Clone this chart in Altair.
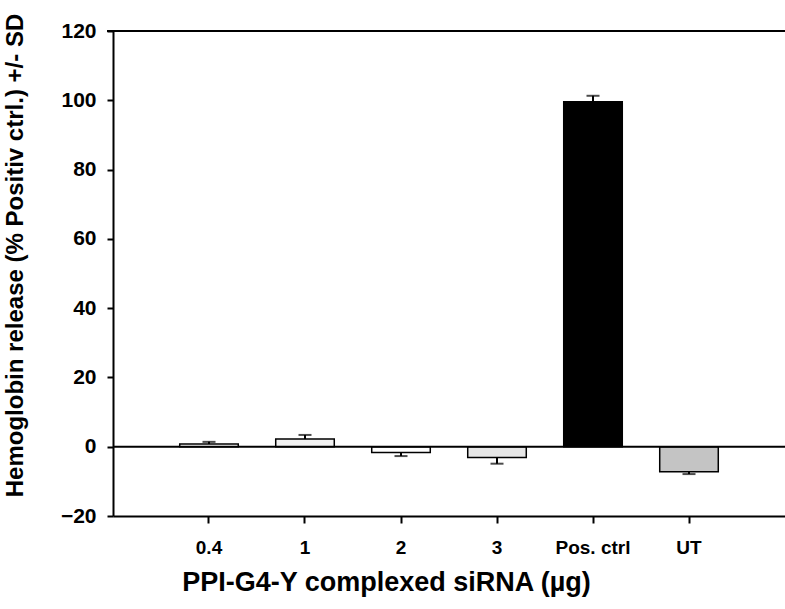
import altair as alt
import pandas as pd

categories = ["0.4", "1", "2", "3", "Pos. ctrl", "UT"]
values = [0.8, 2.2, -1.7, -3.1, 99.6, -7.2]
sd = [0.6, 1.2, 1.0, 1.8, 1.7, 0.7]
fills = ["#ffffff", "#f2f2f2", "#ffffff", "#e6e6e6", "#000000", "#c4c4c4"]

ends = [v + (s if v >= 0 else -s) for v, s in zip(values, sd)]
df = pd.DataFrame({"cat": categories, "value": values, "end": ends, "fill": fills})

FONT = "Liberation Sans"
W, H = 672, 485

xscale = alt.Scale(domain=categories, paddingInner=0.39, paddingOuter=0.695)
yscale = alt.Scale(domain=[-20, 120], nice=False, zero=False)

x = alt.X("cat:N", scale=xscale, sort=categories,
          axis=alt.Axis(title="PPI-G4-Y complexed siRNA (µg)", labelAngle=0,
                        labelFont=FONT, labelFontSize=19, labelFontWeight="bold",
                        labelColor="black", labelPadding=15,
                        titleFont=FONT, titleFontSize=27, titleFontWeight="bold",
                        titleColor="black", titlePadding=12, titleX=273,
                        tickSize=7, tickWidth=2, tickColor="black",
                        domainWidth=2, domainColor="black"))
y = alt.Y("value:Q", scale=yscale,
          axis=alt.Axis(title="Hemoglobin release (% Positiv ctrl.) +/- SD",
                        values=list(range(-20, 121, 20)), grid=False,
                        labelFont=FONT, labelFontSize=21, labelFontWeight="bold",
                        labelColor="black", labelPadding=11,
                        titleFont=FONT, titleFontSize=24, titleFontWeight="bold",
                        titleColor="black", titleX=-86, titleY=224,
                        tickSize=6, tickWidth=2, tickColor="black",
                        domainWidth=2, domainColor="black"))

base = alt.Chart(df)

bars = base.mark_bar(stroke="black", strokeWidth=1.5).encode(
    x=x, y=y, y2=alt.datum(0), fill=alt.Fill("fill:N", scale=None))

err = base.mark_rule(color="black", strokeWidth=2).encode(
    x=alt.X("cat:N", scale=xscale, sort=categories),
    y=alt.Y("value:Q", scale=yscale), y2="end:Q")

caps = base.mark_tick(color="black", orient="horizontal", size=13, thickness=2).encode(
    x=alt.X("cat:N", scale=xscale, sort=categories),
    y=alt.Y("end:Q", scale=yscale))

zero = alt.Chart(pd.DataFrame({"z": [0]})).mark_rule(color="black", strokeWidth=2).encode(
    y=alt.Y("z:Q", scale=yscale), x=alt.value(0), x2=alt.value(W))

top = alt.Chart(pd.DataFrame({"t": [120]})).mark_rule(color="black", strokeWidth=2).encode(
    y=alt.Y("t:Q", scale=yscale), x=alt.value(-6), x2=alt.value(W))

chart = alt.layer(bars, zero, err, caps, top).properties(
    width=W, height=H,
    autosize=alt.AutoSizeParams(type="none"),
    padding={"left": 113, "top": 31, "right": 0, "bottom": 93},
    background="white",
).configure_view(stroke=None)

chart.save("out.html", embed_options={"renderer": "svg", "actions": False})
